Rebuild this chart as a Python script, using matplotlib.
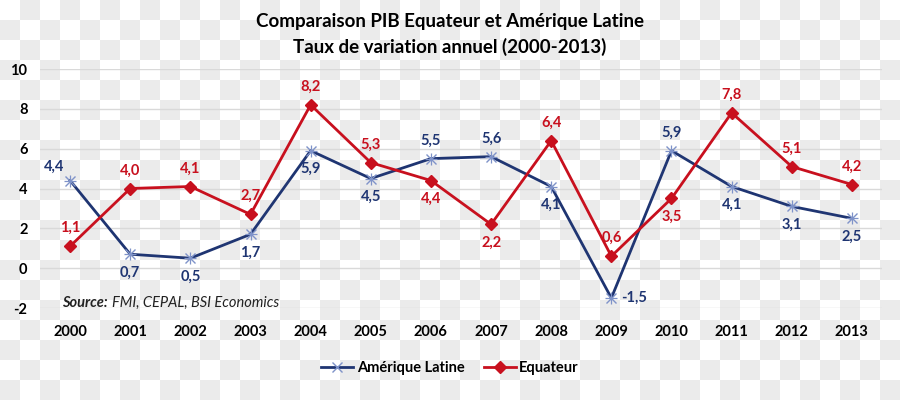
"""
Figure: Comparaison PIB Equateur et Amerique Latine
"""
# --------------------------------------------------------------------------------
# 1.Import modular
# --------------------------------------------------------------------------------
import matplotlib
matplotlib.use("Agg")
import matplotlib.pyplot as plt
import numpy as np

# --------------------------------------------------------------------------------
# 2.Define variable
# --------------------------------------------------------------------------------
YEARS = [str(y) for y in range(2000, 2014)]
AMERIQUE_LATINE = [4.4, 0.7, 0.5, 1.7, 5.9, 4.5, 5.5, 5.6, 4.1, -1.5, 5.9, 4.1, 3.1, 2.5]
EQUATEUR = [1.1, 4.0, 4.1, 2.7, 8.2, 5.3, 4.4, 2.2, 6.4, 0.6, 3.5, 7.8, 5.1, 4.2]

# label placement: 'a' above, 'b' below, 'l' left, 'r' right
AL_POS = ['l', 'b', 'b', 'b', 'b', 'b', 'a', 'a', 'b', 'r', 'a', 'b', 'b', 'b']
EQ_POS = ['a', 'a', 'a', 'a', 'a', 'a', 'b', 'b', 'a', 'a', 'b', 'a', 'a', 'a']

Y_TICKS = [-2, 0, 2, 4, 6, 8, 10]

COLOR_BLUE = "#1f3572"
COLOR_BLUE_MARK = "#7f93c9"
COLOR_RED = "#c8101e"
FONT = "Lato"

PLOT_DPI = 100
PLOT_X_SIZE = 9
PLOT_Y_SIZE = 4


# --------------------------------------------------------------------------------
# 3.Define function
# --------------------------------------------------------------------------------
def add_labels(ax, x, values, positions, color):
    offsets = {'a': (0, 8, 'center', 'bottom'),
               'b': (0, -8, 'center', 'top'),
               'l': (-4, 5, 'right', 'bottom'),
               'r': (7, 0, 'left', 'center')}
    for xi, v, p in zip(x, values, positions):
        dx, dy, ha, va = offsets[p]
        ax.annotate("{0:.1f}".format(v).replace(".", ","), (xi, v),
                    xytext=(dx, dy), textcoords="offset points",
                    ha=ha, va=va, color=color, fontsize=10.5, fontweight="bold",
                    family=FONT)


def draw_chart():
    fig = plt.figure(figsize=(PLOT_X_SIZE, PLOT_Y_SIZE), dpi=PLOT_DPI, facecolor="w")

    # checkered background
    h, w = 400, 900
    yy, xx = np.mgrid[0:h, 0:w]
    board = ((yy // 20 + xx // 20) % 2)
    bg = np.where(board[..., None] == 1, 0.925, 1.0) * np.ones((h, w, 3))
    fig.figimage(bg, xo=0, yo=0, origin="upper", zorder=-10)

    ax = fig.add_axes([40 / 900, 92 / 400, 842 / 900, 239 / 400])
    ax.patch.set_alpha(0)
    x = np.arange(len(YEARS))

    ax.set_xlim(-0.5, len(YEARS) - 0.5)
    ax.set_ylim(-2, 10)
    ax.set_yticks(Y_TICKS)
    ax.set_yticklabels([str(t) for t in Y_TICKS], family=FONT, fontsize=10.5, fontweight="bold")
    ax.set_xticks(x)
    ax.set_xticklabels(YEARS, family=FONT, fontsize=10.5, fontweight="bold")
    ax.tick_params(axis="both", length=0)
    ax.tick_params(axis="x", pad=12)
    ax.tick_params(axis="y", pad=9)
    ax.grid(axis="y", color="#d9d9d9", linewidth=1)
    for s in ax.spines.values():
        s.set_visible(False)

    ax.plot(x, AMERIQUE_LATINE, color=COLOR_BLUE, linewidth=2.0, marker="x",
            markersize=7, markeredgecolor=COLOR_BLUE_MARK, markeredgewidth=1.0,
            label="Amérique Latine", zorder=3)
    ax.plot(x, AMERIQUE_LATINE, linestyle="none", marker="+", markersize=8,
            markeredgecolor=COLOR_BLUE_MARK, markeredgewidth=0.9, zorder=3)
    ax.plot(x, EQUATEUR, color=COLOR_RED, linewidth=2.0, marker="D",
            markersize=6, markerfacecolor=COLOR_RED, markeredgecolor=COLOR_RED,
            label="Equateur", zorder=4)

    add_labels(ax, x, AMERIQUE_LATINE, AL_POS, COLOR_BLUE)
    add_labels(ax, x, EQUATEUR, EQ_POS, COLOR_RED)

    # source
    fig.text(62 / 900, 1 - 303 / 400, "Source:", family=FONT, style="italic",
             fontweight="bold", fontsize=10.5, va="center", color="#222222")
    fig.text(112 / 900, 1 - 303 / 400, "FMI, CEPAL, BSI Economics", family=FONT,
             style="italic", fontsize=10.5, va="center", color="#222222")

    # title
    fig.text(0.5, 1 - 22 / 400, "Comparaison PIB Equateur et Amérique Latine",
             ha="center", va="center", family=FONT, fontweight="bold", fontsize=13.5)
    fig.text(0.5, 1 - 47 / 400, "Taux de variation annuel (2000-2013)",
             ha="center", va="center", family=FONT, fontweight="bold", fontsize=13.5)

    # legend
    fig.legend(loc="center", bbox_to_anchor=(0.5, 1 - 368 / 400), ncol=2,
               frameon=False, prop={"family": FONT, "weight": "bold", "size": 10.5},
               handlelength=2.2, handletextpad=0.25, columnspacing=1.3)

    plt.savefig("out.png", dpi=PLOT_DPI, format="png")
    plt.close()


# --------------------------------------------------------------------------------
# 4.Main function
# --------------------------------------------------------------------------------
if __name__ == '__main__':
    draw_chart()
